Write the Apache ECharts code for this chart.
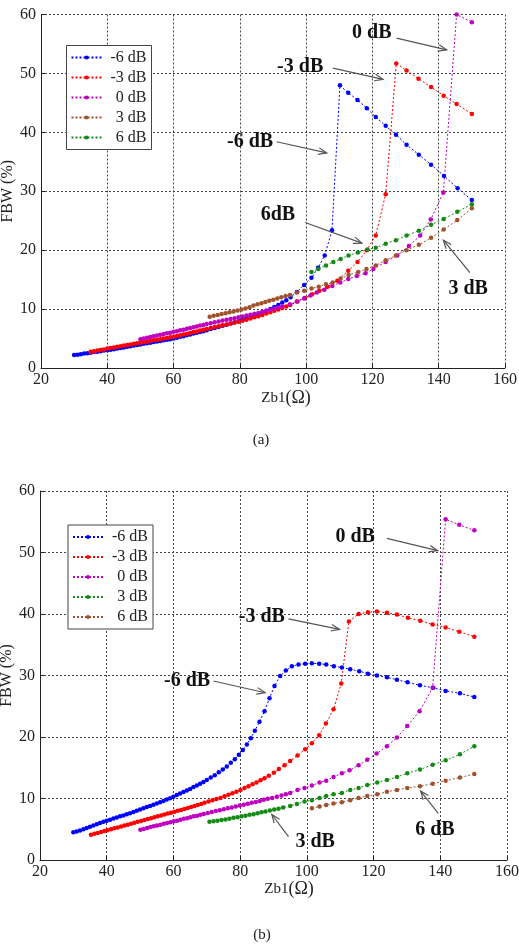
<!DOCTYPE html>
<html>
<head>
<meta charset="utf-8">
<script src="https://cdn.jsdelivr.net/npm/echarts@6/dist/echarts.min.js"></script>
<style>
  html, body { margin: 0; padding: 0; background: #fff; }
  #chart { width: 519px; height: 947px; }
</style>
</head>
<body>
<div id="chart"></div>
<script>
// legend labels, in legend order
const labelsA = ['-6 dB', '-3 dB', '0 dB', '3 dB', '6 dB'];
const labelsB = ['-6 dB', '-3 dB', '0 dB', '3 dB', '6 dB'];

// tick values
const xTicks = [20, 40, 60, 80, 100, 120, 140, 160];
const yTicks = [0, 10, 20, 30, 40, 50, 60];

// (a) FBW vs Zb1, [Zb1 (ohm), FBW (%)]
const aMinus6 = [[30,2.2],[31,2.25],[32,2.35],[33,2.45],[34,2.5],[35,2.6],[36,2.7],[37,2.75],[38,2.85],[39,2.95],[40,3.0],[41,3.1],[42,3.2],[43,3.3],[44,3.4],[45,3.5],[46,3.6],[47,3.7],[48,3.8],[49,3.9],[50,4.0],[51,4.1],[52,4.2],[53,4.3],[54,4.4],[55,4.5],[56,4.6],[57,4.7],[58,4.8],[59,4.9],[60,5.0],[61,5.15],[62,5.3],[63,5.4],[64,5.55],[65,5.7],[66,5.85],[67,6.0],[68,6.1],[69,6.25],[70,6.4],[71.2,6.6],[72.4,6.8],[73.6,6.95],[74.8,7.15],[76,7.35],[77.2,7.55],[78.4,7.75],[79.6,7.95],[80.8,8.2],[82,8.4],[83.2,8.65],[84.4,8.9],[85.6,9.15],[86.8,9.4],[88,9.7],[89.2,10.0],[90.4,10.35],[91.6,10.7],[92.8,11.1],[94,11.5],[95.3,12.0],[97.2,12.9],[99.4,14.1],[101.6,15.3],[103.6,17.0],[105.6,19.1],[107.8,23.4],[110.2,48.0],[112.7,46.7],[115.5,45.5],[118.3,44.1],[121.0,42.6],[124.0,41.1],[127.1,39.6],[130.3,37.9],[134.0,36.2],[137.7,34.5],[141.6,32.6],[145.7,30.5],[150.0,28.5]];
const aMinus3 = [[35,2.75],[36,2.85],[37,2.95],[38,3.05],[39,3.15],[40,3.3],[41,3.4],[42,3.5],[43,3.6],[44,3.7],[45,3.8],[46,3.9],[47,4.0],[48,4.1],[49,4.2],[50,4.3],[51,4.4],[52,4.5],[53,4.6],[54,4.7],[55,4.8],[56,4.9],[57,5.0],[58,5.1],[59,5.2],[60,5.3],[61,5.45],[62,5.55],[63,5.7],[64,5.8],[65,5.95],[66,6.1],[67,6.2],[68,6.35],[69,6.5],[70,6.6],[71.2,6.8],[72.4,6.95],[73.6,7.1],[74.8,7.25],[76,7.4],[77.2,7.55],[78.4,7.7],[79.6,7.85],[80.8,8.0],[82,8.2],[83.2,8.4],[84.4,8.6],[85.6,8.8],[86.8,9.0],[88,9.25],[89.2,9.45],[90.4,9.7],[91.6,9.95],[92.8,10.2],[94,10.45],[95.2,10.7],[97.4,11.3],[99.6,11.9],[101.8,12.5],[104,13.1],[106.4,13.8],[109.4,14.8],[112.7,16.5],[115.5,18.0],[118.3,20.0],[121.0,22.5],[124.0,29.5],[127.2,51.7],[130.3,50.5],[133.9,49.1],[137.7,47.7],[141.5,46.2],[145.4,44.8],[150.0,43.1]];
const aZero = [[50,4.9],[51,5.0],[52,5.15],[53,5.25],[54,5.4],[55,5.5],[56,5.65],[57,5.75],[58,5.9],[59,6.0],[60,6.15],[61,6.25],[62,6.4],[63,6.5],[64,6.65],[65,6.8],[66,6.9],[67,7.05],[68,7.2],[69,7.3],[70,7.45],[71.2,7.6],[72.4,7.75],[73.6,7.9],[74.8,8.05],[76,8.2],[77.2,8.3],[78.4,8.45],[79.6,8.6],[80.8,8.75],[82,8.9],[83.2,9.05],[84.4,9.2],[85.6,9.35],[86.8,9.55],[88,9.7],[89.2,9.9],[90.4,10.05],[91.6,10.25],[92.8,10.45],[95.1,10.8],[97.2,11.3],[99.4,11.8],[101.3,12.3],[103.2,12.8],[105.5,13.3],[107.9,13.9],[110.3,14.5],[112.7,15.1],[115.3,15.6],[117.9,16.1],[120.3,16.8],[124.0,18.0],[127.5,19.1],[131.0,20.7],[134.4,22.5],[137.6,25.2],[141.4,29.8],[145.4,60.0],[150.0,58.7]];
const aPlus3 = [[70.9,8.7],[72.1,8.85],[73.3,9.0],[74.5,9.15],[75.7,9.3],[76.9,9.45],[78.1,9.6],[79.3,9.75],[80.5,9.95],[81.7,10.1],[82.9,10.3],[84.1,10.6],[85.3,10.8],[86.5,11.0],[87.7,11.2],[88.9,11.4],[90.1,11.6],[91.3,11.8],[92.5,12.0],[93.8,12.2],[95.1,12.4],[97.2,12.8],[99.4,13.1],[101.6,13.5],[103.8,13.8],[106.0,14.2],[108.0,14.5],[110.4,15.2],[112.8,15.8],[115.7,16.3],[118.2,16.8],[121.0,17.4],[124.0,18.3],[127.1,19.1],[130.3,20.0],[134.0,20.9],[137.7,22.1],[141.5,23.5],[145.6,25.1],[150.0,27.1]];
const aPlus6 = [[101.6,16.3],[103.7,16.8],[106.0,17.4],[108.2,18.0],[110.4,18.5],[112.8,19.1],[115.6,19.6],[118.5,20.1],[121.0,20.4],[124.0,21.1],[127.1,21.7],[130.3,22.5],[134.0,23.3],[137.7,24.3],[141.5,25.3],[145.6,26.5],[150.0,27.8]];

// (b) FBW vs Zb1
const bMinus6 = [[30,4.5],[31,4.65],[32,4.8],[33,5.0],[34,5.2],[35,5.4],[36,5.6],[37,5.8],[38,6.0],[39,6.2],[40,6.4],[41,6.55],[42,6.75],[43,6.9],[44,7.1],[45,7.25],[46,7.45],[47,7.6],[48,7.8],[49,8.0],[50,8.2],[51,8.4],[52,8.6],[53,8.8],[54,9.0],[55,9.2],[56,9.4],[57,9.6],[58,9.85],[59,10.05],[60,10.3],[61,10.55],[62,10.8],[63,11.05],[64,11.3],[65,11.55],[66,11.85],[67,12.1],[68,12.4],[69,12.7],[70,13.0],[71.2,13.4],[72.4,13.8],[73.6,14.25],[74.8,14.7],[76,15.2],[77.2,15.8],[78.4,16.4],[79.6,17.1],[80.8,17.9],[82,18.8],[83.2,19.8],[84.4,21.0],[85.8,22.5],[87.3,24.2],[88.8,26.3],[90.3,28.3],[92.0,29.9],[93.7,30.8],[95.5,31.5],[97.5,31.8],[99.5,31.9],[101.5,32.0],[103.7,31.9],[105.8,31.8],[108.1,31.5],[110.5,31.3],[113.0,31.0],[115.7,30.7],[118.3,30.3],[121.0,30.0],[124.0,29.7],[127.0,29.3],[130.2,28.9],[133.9,28.4],[137.9,28.0],[141.6,27.5],[145.9,27.1],[150.2,26.5]];
const bMinus3 = [[35.3,4.1],[36.3,4.25],[37.3,4.4],[38.3,4.55],[39.3,4.7],[40.3,4.85],[41.3,5.0],[42.3,5.15],[43.3,5.3],[44.3,5.45],[45.3,5.6],[46.3,5.75],[47.3,5.9],[48.3,6.05],[49.3,6.2],[50.3,6.35],[51.3,6.5],[52.3,6.65],[53.3,6.8],[54.3,6.95],[55.3,7.1],[56.3,7.25],[57.3,7.4],[58.3,7.55],[59.3,7.7],[60.3,7.85],[61.3,8.0],[62.3,8.15],[63.3,8.3],[64.3,8.45],[65.3,8.6],[66.3,8.8],[67.3,8.95],[68.3,9.1],[69.3,9.3],[70.5,9.5],[71.7,9.7],[72.9,9.9],[74.1,10.1],[75.3,10.35],[76.5,10.6],[77.7,10.85],[78.9,11.1],[80.1,11.4],[81.3,11.7],[82.5,12.0],[83.7,12.3],[84.9,12.6],[86.1,12.95],[87.3,13.3],[88.6,13.7],[90.1,14.2],[91.6,14.8],[93.3,15.4],[95.0,16.1],[97.2,17.0],[99.5,18.0],[101.5,19.0],[103.7,20.3],[105.7,22.2],[108.0,24.5],[110.3,28.7],[112.6,38.8],[115.5,40.0],[118.3,40.3],[121.0,40.4],[124.0,40.2],[127.0,39.9],[130.3,39.4],[134.0,38.9],[137.7,38.3],[141.6,37.8],[145.7,37.1],[150.2,36.3]];
const bZero = [[50.1,4.9],[51.1,5.05],[52.1,5.2],[53.1,5.35],[54.1,5.5],[55.1,5.6],[56.1,5.75],[57.1,5.9],[58.1,6.0],[59.1,6.15],[60.1,6.3],[61.1,6.4],[62.1,6.55],[63.1,6.7],[64.1,6.8],[65.1,6.95],[66.1,7.1],[67.1,7.2],[68.1,7.35],[69.1,7.5],[70.3,7.65],[71.5,7.8],[72.7,7.95],[73.9,8.1],[75.1,8.25],[76.3,8.4],[77.5,8.55],[78.7,8.7],[79.9,8.85],[81.1,9.0],[82.3,9.15],[83.5,9.3],[84.7,9.45],[85.9,9.6],[87.1,9.8],[88.3,9.95],[89.6,10.1],[91.0,10.3],[92.4,10.5],[93.7,10.7],[95.0,10.9],[97.2,11.4],[99.3,11.7],[101.5,12.1],[103.8,12.6],[105.8,12.9],[108.0,13.5],[110.5,14.1],[112.8,14.6],[115.5,15.4],[118.1,16.3],[120.9,17.3],[124.0,18.5],[127.0,19.9],[130.1,21.8],[133.8,24.2],[137.7,28.0],[141.6,55.4],[145.7,54.5],[150.2,53.6]];
const bPlus3 = [[70.8,6.2],[72.0,6.3],[73.2,6.4],[74.4,6.5],[75.6,6.6],[76.8,6.7],[78.0,6.85],[79.2,6.95],[80.4,7.1],[81.6,7.2],[82.8,7.35],[84.0,7.45],[85.2,7.6],[86.4,7.75],[87.6,7.9],[88.9,8.05],[90.2,8.2],[91.5,8.35],[92.9,8.55],[95.0,8.8],[97.0,9.1],[99.3,9.5],[101.5,9.7],[103.8,10.1],[105.8,10.4],[108.0,10.7],[110.5,10.9],[113.0,11.4],[115.5,11.7],[118.1,12.2],[121.1,12.6],[124.0,13.0],[127.0,13.5],[130.1,14.1],[133.9,14.7],[137.7,15.5],[141.6,16.2],[145.9,17.2],[150.2,18.5]];
const bPlus6 = [[101.5,8.4],[103.8,8.7],[105.8,8.95],[108.0,9.2],[110.5,9.4],[113.0,9.7],[115.5,10.1],[118.1,10.4],[121.1,10.7],[124.0,11.1],[127.0,11.4],[130.1,11.7],[133.9,12.0],[137.7,12.4],[141.6,12.9],[145.9,13.4],[150.2,14.0]];

// callouts: label position, arrow start, arrow tip (data coords)
const calloutsA = [
    { text: '0 dB',  at: [119.8, 56.9], from: [127.3, 56.0], to: [142.4, 54.0] },
    { text: '-3 dB', at: [98.2, 51.1],  from: [108.1, 50.9], to: [123.2, 49.0] },
    { text: '-6 dB', at: [83.1, 38.4],  from: [91.1, 38.4],  to: [106.2, 36.5] },
    { text: '6dB',   at: [91.5, 26.0],  from: [99.7, 24.7],  to: [116.8, 21.2] },
    { text: '3 dB',  at: [148.9, 13.5], from: [149.4, 16.2], to: [141.4, 21.7] }
];
const calloutsB = [
    { text: '0 dB',  at: [114.5, 52.5], from: [124.0, 52.3], to: [139.2, 50.3] },
    { text: '-3 dB', at: [86.5, 39.5],  from: [94.5, 39.2],  to: [109.8, 37.5] },
    { text: '-6 dB', at: [64.1, 29.2],  from: [72.0, 29.1],  to: [87.5, 27.2] },
    { text: '3 dB',  at: [102.5, 3.0],  from: [94.5, 3.8],   to: [89.5, 7.4] },
    { text: '6 dB',  at: [138.4, 4.9],  from: [139.4, 7.6],  to: [134.1, 11.2] }
];

const FONT = 'Liberation Serif';
const BLUE = '#0000ff', RED = '#ff0000', MAGENTA = '#c000c0', BROWN = '#a0522d', GREEN = '#168a16';

function makeSeries(prefix, label, data, color, gi) {
    return {
        name: prefix + label,
        type: 'line',
        xAxisIndex: gi,
        yAxisIndex: gi,
        data: data,
        symbol: 'circle',
        symbolSize: 4.5,
        color: color,
        itemStyle: { color: color },
        lineStyle: { color: color, width: 1, type: [2, 2] },
        silent: true,
        animation: false
    };
}

function makeX(gi) {
    return {
        type: 'value', gridIndex: gi, min: 20, max: 160, interval: 20,
        axisLine: { lineStyle: { color: '#222', width: 1 } },
        axisTick: { inside: true, length: 4, lineStyle: { color: '#222' } },
        axisLabel: { color: '#222', fontFamily: FONT, fontSize: 16, margin: 4 },
        splitLine: { show: true, lineStyle: { color: '#444', type: [2, 2], width: 1 } }
    };
}

function makeY(gi) {
    return {
        type: 'value', gridIndex: gi, min: 0, max: 60, interval: 10,
        name: 'FBW (%)', nameLocation: 'middle', nameGap: 25, nameRotate: 90,
        nameMoveOverlap: false,
        nameTextStyle: { color: '#222', fontFamily: FONT, fontSize: 16 },
        axisLine: { show: true, lineStyle: { color: '#222', width: 1 } },
        axisTick: { show: true, inside: true, length: 4, lineStyle: { color: '#222' } },
        axisLabel: { color: '#222', fontFamily: FONT, fontSize: 16, margin: 5 },
        splitLine: { show: true, lineStyle: { color: '#444', type: [2, 2], width: 1 } }
    };
}

function makeLegend(prefix, labels, top, left) {
    return {
        data: labels.map(l => prefix + l),
        orient: 'vertical',
        left: left, top: top,
        itemWidth: 30, itemHeight: 5, itemGap: 4,
        padding: [4, 5, 4, 4],
        backgroundColor: '#fff',
        borderColor: '#444', borderWidth: 1, borderRadius: 0,
        formatter: n => '{r|' + n.slice(2) + '}',
        textStyle: {
            rich: { r: { width: 40, align: 'right', fontFamily: FONT, fontSize: 16, lineHeight: 16, color: '#222' } }
        },
        selectedMode: false
    };
}

const chart = echarts.init(document.getElementById('chart'), null, { renderer: 'canvas' });

chart.setOption({
    backgroundColor: '#fff',
    animation: false,
    grid: [
        { left: 41, right: 14, top: 14.5, height: 353.5, containLabel: false, outerBoundsMode: 'none' },
        { left: 40, right: 12, top: 491, height: 369, containLabel: false, outerBoundsMode: 'none' }
    ],
    xAxis: [makeX(0), makeX(1)],
    yAxis: [makeY(0), makeY(1)],
    legend: [makeLegend('a ', labelsA, 45.5, 66.5), makeLegend('b ', labelsB, 525, 68)],
    series: [
        makeSeries('a ', labelsA[0], aMinus6, BLUE, 0),
        makeSeries('a ', labelsA[1], aMinus3, RED, 0),
        makeSeries('a ', labelsA[2], aZero, MAGENTA, 0),
        makeSeries('a ', labelsA[3], aPlus3, BROWN, 0),
        makeSeries('a ', labelsA[4], aPlus6, GREEN, 0),
        makeSeries('b ', labelsB[0], bMinus6, BLUE, 1),
        makeSeries('b ', labelsB[1], bMinus3, RED, 1),
        makeSeries('b ', labelsB[2], bZero, MAGENTA, 1),
        makeSeries('b ', labelsB[3], bPlus3, GREEN, 1),
        makeSeries('b ', labelsB[4], bPlus6, BROWN, 1)
    ]
});

// callout arrows and labels, placed through the axes
function callouts(list, gi) {
    const out = [];
    list.forEach(c => {
        const p = chart.convertToPixel({ gridIndex: gi }, c.at);
        const a = chart.convertToPixel({ gridIndex: gi }, c.from);
        const b = chart.convertToPixel({ gridIndex: gi }, c.to);
        const ang = Math.atan2(b[1] - a[1], b[0] - a[0]);
        const len = 9, spread = 0.38;
        const w1 = [b[0] - len * Math.cos(ang - spread), b[1] - len * Math.sin(ang - spread)];
        const w2 = [b[0] - len * Math.cos(ang + spread), b[1] - len * Math.sin(ang + spread)];
        out.push({
            type: 'line', silent: true, z: 50,
            shape: { x1: a[0], y1: a[1], x2: b[0], y2: b[1] },
            style: { stroke: '#555', lineWidth: 1.2 }
        });
        out.push({
            type: 'polyline', silent: true, z: 50,
            shape: { points: [w1, b, w2] },
            style: { stroke: '#555', lineWidth: 1.2, fill: null }
        });
        out.push({
            type: 'text', silent: true, z: 51,
            x: p[0], y: p[1],
            style: {
                text: c.text, fill: '#111',
                font: 'bold 20px "Liberation Serif"',
                textAlign: 'center', textVerticalAlign: 'middle'
            }
        });
    });
    return out;
}

function xName(x, y) {
    return {
        type: 'text', silent: true, x: x, y: y,
        style: {
            text: '{a|Zb1}{b|(Ω)}',
            rich: {
                a: { fontFamily: FONT, fontSize: 15, fill: '#222' },
                b: { fontFamily: FONT, fontSize: 18, fill: '#222' }
            },
            textAlign: 'center', textVerticalAlign: 'middle'
        }
    };
}

function caption(text, x, y) {
    return {
        type: 'text', silent: true, x: x, y: y,
        style: {
            text: text, fill: '#222', font: '15px "Liberation Serif"',
            textAlign: 'center', textVerticalAlign: 'middle'
        }
    };
}

chart.setOption({
    graphic: [].concat(
        callouts(calloutsA, 0),
        callouts(calloutsB, 1),
        [xName(286, 398), xName(289, 889), caption('(a)', 261, 440), caption('(b)', 262, 935)]
    )
});
</script>
</body>
</html>
